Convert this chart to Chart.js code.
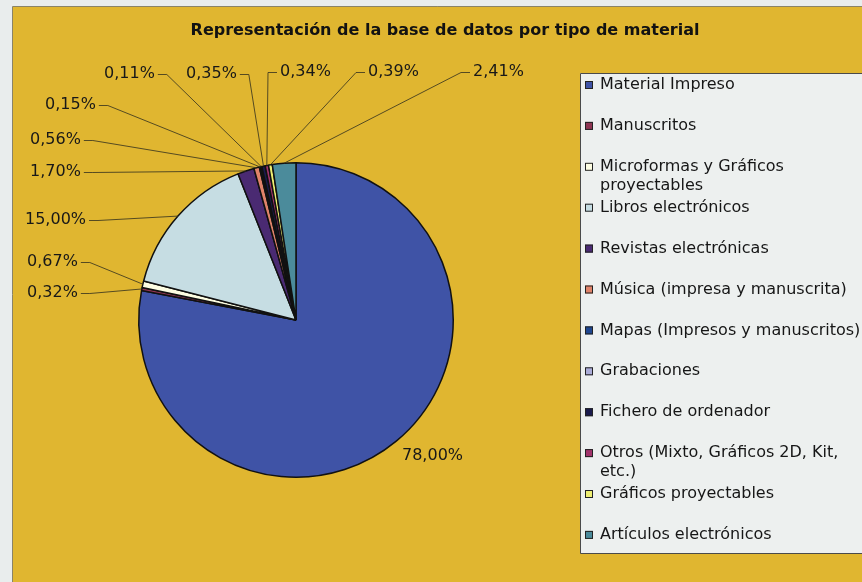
<!DOCTYPE html>
<html>
<head>
<meta charset="utf-8">
<script src="https://cdn.jsdelivr.net/npm/chart.js@4"></script>
<style>
  html, body { margin: 0; padding: 0; background: #e9eded; }
  canvas { display: block; }
</style>
</head>
<body>
<canvas id="grafico" width="862" height="582"></canvas>
<script>
const titulo = 'Representación de la base de datos por tipo de material'

const categorias = [
  'Material Impreso',
  'Manuscritos',
  'Microformas y Gráficos\nproyectables',
  'Libros electrónicos',
  'Revistas electrónicas',
  'Música (impresa y manuscrita)',
  'Mapas (Impresos y manuscritos)',
  'Grabaciones',
  'Fichero de ordenador',
  'Otros (Mixto, Gráficos 2D, Kit,\netc.)',
  'Gráficos proyectables',
  'Artículos electrónicos'
]

const porcentajes = [78.00, 0.32, 0.67, 15.00, 1.70, 0.56, 0.15, 0.11, 0.35, 0.34, 0.39, 2.41]

const colores = [
  '#3f53a6', '#8e3552', '#fdfde2', '#c6dde3', '#4a2a72', '#e0836a',
  '#1f4690', '#abacd8', '#1b1b4d', '#a2336b', '#eeee72', '#4b8b9b'
]

// posicion de cada etiqueta (borde izquierdo del texto, centro vertical) y lado de la guia
const posEtiquetas = [
  [402, 456, null],
  [27, 293, 'der'],
  [27, 262, 'der'],
  [25, 220, 'der'],
  [30, 172, 'der'],
  [30, 140, 'der'],
  [45, 105, 'der'],
  [104, 74, 'der'],
  [186, 74, 'der'],
  [280, 72, 'izq'],
  [368, 72, 'izq'],
  [473, 72, 'izq']
]

const fuente = "'DejaVu Sans', Verdana, sans-serif"

function formatea(v) {
  return v.toFixed(2).replace('.', ',') + '%'
}

const fondo = {
  id: 'fondo',
  beforeDraw(chart) {
    const ctx = chart.ctx
    ctx.save()
    ctx.fillStyle = '#e9eded'
    ctx.fillRect(0, 0, chart.width, chart.height)
    ctx.fillStyle = '#e0b630'
    ctx.fillRect(13, 6, chart.width - 13, chart.height - 6)
    ctx.strokeStyle = '#8a8468'
    ctx.lineWidth = 1
    ctx.beginPath()
    ctx.moveTo(12.5, chart.height)
    ctx.lineTo(12.5, 6.5)
    ctx.lineTo(chart.width, 6.5)
    ctx.stroke()
    ctx.restore()
  }
}

const decoracion = {
  id: 'decoracion',
  afterDraw(chart) {
    const ctx = chart.ctx
    ctx.save()

    // titulo
    ctx.fillStyle = '#121212'
    ctx.font = 'bold 16px ' + fuente
    ctx.textAlign = 'center'
    ctx.textBaseline = 'middle'
    ctx.fillText(titulo, 445, 31)

    // etiquetas y lineas guia
    const arcos = chart.getDatasetMeta(0).data
    ctx.font = '16px ' + fuente
    ctx.textAlign = 'left'
    arcos.forEach((arco, i) => {
      const [x, y, lado] = posEtiquetas[i]
      const texto = formatea(porcentajes[i])
      const ancho = ctx.measureText(texto).width
      ctx.fillStyle = '#181818'
      ctx.fillText(texto, x, y)
      if (!lado) return
      const medio = (arco.startAngle + arco.endAngle) / 2
      const bx = arco.x + Math.cos(medio) * arco.outerRadius
      const by = arco.y + Math.sin(medio) * arco.outerRadius
      let x0, x1
      if (lado === 'der') {
        x0 = x + ancho + 3
        x1 = x0 + 9
      } else {
        x0 = x - 3
        x1 = x0 - 9
      }
      ctx.strokeStyle = 'rgba(60,55,30,0.85)'
      ctx.lineWidth = 1
      ctx.beginPath()
      ctx.moveTo(x0, y + 0.5)
      ctx.lineTo(x1, y + 0.5)
      ctx.lineTo(bx, by)
      ctx.stroke()
    })

    // leyenda
    const lx = 580, ly = 73
    ctx.fillStyle = '#edf0ef'
    ctx.fillRect(lx, ly, chart.width - lx, 480)
    ctx.strokeStyle = '#4a4a4a'
    ctx.beginPath()
    ctx.moveTo(chart.width, ly + 0.5)
    ctx.lineTo(lx + 0.5, ly + 0.5)
    ctx.lineTo(lx + 0.5, ly + 480.5)
    ctx.lineTo(chart.width, ly + 480.5)
    ctx.stroke()

    ctx.font = '16px ' + fuente
    ctx.textBaseline = 'middle'
    categorias.forEach((cat, i) => {
      const yc = 85 + i * 40.9
      ctx.fillStyle = colores[i]
      ctx.fillRect(585, yc - 4, 8, 8)
      ctx.strokeStyle = '#222'
      ctx.strokeRect(585.5, yc - 3.5, 7, 7)
      ctx.fillStyle = '#161616'
      cat.split('\n').forEach((linea, k) => {
        ctx.fillText(linea, 600, yc + k * 19)
      })
    })

    ctx.restore()
  }
}

new Chart(document.querySelector('#grafico'), {
  type: 'pie',
  data: {
    labels: categorias,
    datasets: [{
      data: porcentajes,
      backgroundColor: colores,
      borderColor: '#111111',
      borderWidth: 1.5
    }]
  },
  options: {
    responsive: false,
    animation: false,
    events: [],
    layout: {
      padding: { left: 138, right: 408, top: 162, bottom: 104 }
    },
    plugins: {
      legend: { display: false },
      title: { display: false },
      tooltip: { enabled: false }
    }
  },
  plugins: [fondo, decoracion]
});
</script>
</body>
</html>
